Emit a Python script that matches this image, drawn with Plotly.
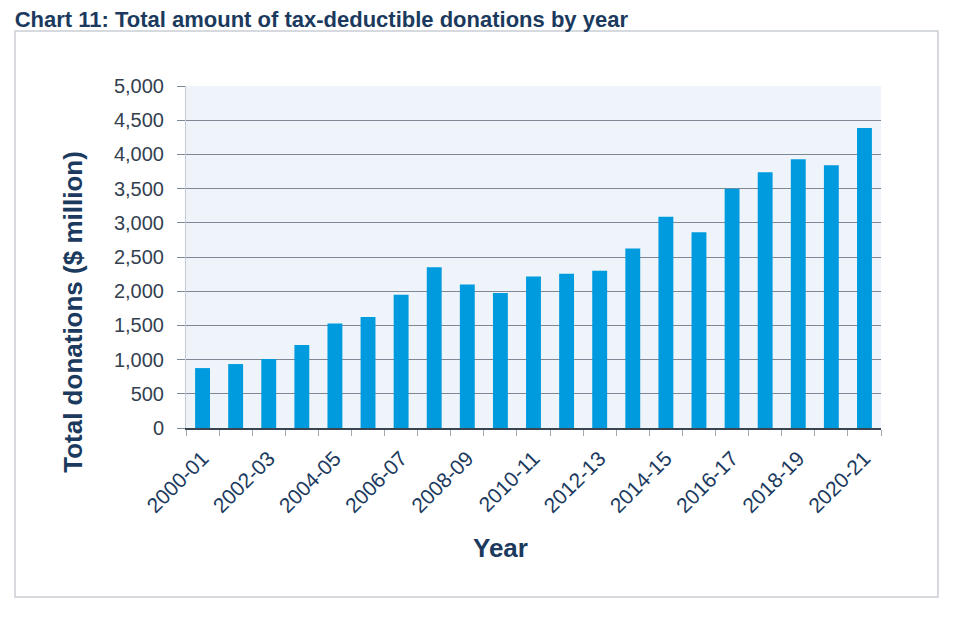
import plotly.graph_objects as go

years = ["2000-01", "2001-02", "2002-03", "2003-04", "2004-05", "2005-06", "2006-07",
         "2007-08", "2008-09", "2009-10", "2010-11", "2011-12", "2012-13", "2013-14",
         "2014-15", "2015-16", "2016-17", "2017-18", "2018-19", "2019-20", "2020-21"]
donations = [876, 935, 1008, 1212, 1529, 1621, 1947, 2351, 2098, 1972, 2215,
             2254, 2298, 2624, 3087, 2863, 3496, 3739, 3929, 3841, 4387]
tick_labels = [y if i % 2 == 0 else "" for i, y in enumerate(years)]

navy = "#1b3a5e"
grid = "#7d8894"

fig = go.Figure()
fig.add_trace(go.Bar(x=years, y=donations, marker_color="#009bde",
                     marker_line_width=0))

# page body adds an 8px offset, so margins are shifted to compensate
fig.update_layout(
    width=960, height=618,
    margin=dict(l=178, r=87, t=78, b=198),
    paper_bgcolor="white",
    plot_bgcolor="#eef4f9",
    bargap=0.55,
    showlegend=False,
    font=dict(family="Liberation Sans, Arial, sans-serif", color="#333f4f"),
    title=dict(text="<b>Chart 11: Total amount of tax-deductible donations by year</b>",
               x=0.007, xanchor="left", y=1.0, yanchor="top", pad=dict(t=4),
               font=dict(family="Liberation Sans Narrow, Liberation Sans, Arial", size=22, color=navy)),
    shapes=[dict(type="rect", xref="paper", yref="paper", x0=-0.246, x1=1.082, y0=-0.494, y1=1.161,
                 line=dict(color="#c9cdd2", width=1.5), fillcolor="rgba(0,0,0,0)", layer="below")],
    annotations=[
        dict(text="<b>Total donations ($ million)</b>", xref="paper", yref="paper",
             x=-0.163, y=0.339, xanchor="center", yanchor="middle",
             textangle=-90, showarrow=False,
             font=dict(size=26, color=navy)),
        dict(text="<b>Year</b>", xref="paper", yref="paper",
             x=0.452, y=-0.351, xanchor="center", yanchor="middle", showarrow=False,
             font=dict(size=26, color=navy)),
    ],
)

fig.update_yaxes(
    range=[0, 5000], dtick=500, tickformat=",",
    showgrid=True, gridcolor=grid, gridwidth=1,
    ticks="outside", ticklen=8, tickcolor=grid,
    showline=True, linecolor="#c4cbd3", linewidth=1,
    tickfont=dict(size=20, color="#333f4f"), ticklabelstandoff=9,
    zeroline=False,
)

fig.update_xaxes(
    type="category",
    tickmode="array", tickvals=years, ticktext=tick_labels,
    tickson="boundaries", ticks="outside", ticklen=6, tickcolor="#a0a8b0",
    tickangle=-45, tickfont=dict(size=21, color=navy), ticklabelstandoff=8,
    showline=True, linecolor="#3a4450", linewidth=1.5,
)

fig.write_html("out.html")
